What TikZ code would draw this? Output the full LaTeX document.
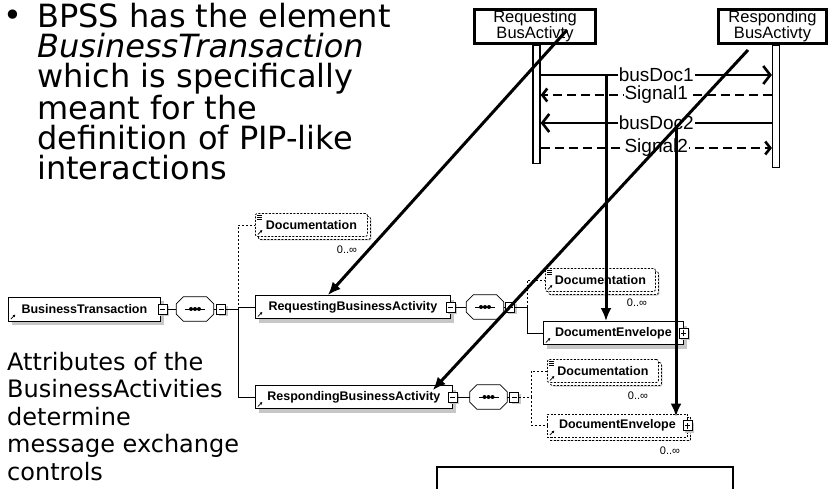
\documentclass[tikz,border=0pt]{standalone}
\usepackage{fontspec}
\setmainfont{DejaVu Sans}
\newfontfamily\arialfont{Liberation Sans}
\usetikzlibrary{positioning}
\usetikzlibrary{shadows}
\usetikzlibrary{arrows.meta}
\tikzset{
    actbox/.style = {rectangle, line width=3pt, draw=black, fill=white, align=center, inner sep=0pt, font=\arialfont\fontsize{16.5}{16}\selectfont},
    life/.style = {rectangle, line width=1.2pt, draw=black, fill=white, minimum width=7pt, inner sep=0pt},
    msg/.style = {line width=2.6pt, -{Straight Barb[length=7pt,width=18pt]}},
    sig/.style = {line width=2.6pt, dash pattern=on 9pt off 5pt, -{Straight Barb[length=5pt,width=13pt]}},
    msglabel/.style = {fill=white, inner sep=1pt, font=\arialfont\fontsize{19}{19}\selectfont},
    pointer/.style = {line width=3pt, -{Latex[length=13pt,width=11pt]}},
    elem/.style = {rectangle, draw=black, line width=0.8pt, fill=white, minimum height=23pt, inner sep=0pt, anchor=west,
        font=\arialfont\bfseries\fontsize{12.5}{12.5}\selectfont,
        drop shadow={shadow xshift=4pt, shadow yshift=-4pt, fill=black!22, opacity=1},
        path picture={\draw[line width=0.8pt, solid, -{Latex[length=2.5pt,width=3pt]}] ([xshift=2.5pt,yshift=2pt]path picture bounding box.south west) -- ++(4.5pt,4.5pt);}},
    optelem/.style = {elem, dash pattern=on 2pt off 1.5pt},
    multi/.style = {copy shadow={shadow xshift=3pt, shadow yshift=-3pt, draw=black, fill=white}},
    docelem/.style = {optelem, multi, rounded corners=2pt,
        path picture={\draw[line width=0.8pt, solid, -{Latex[length=2.5pt,width=3pt]}] ([xshift=2.5pt,yshift=2pt]path picture bounding box.south west) -- ++(4.5pt,4.5pt);
            \foreach \dy in {1.5,3.5,5.5} \draw[line width=0.6pt, solid] ([xshift=1.5pt,yshift=-\dy pt]path picture bounding box.north west) -- ++(5pt,0pt);}},
    compositor/.style = {rectangle, minimum width=37pt, minimum height=24pt, inner sep=0pt,
        append after command={\pgfextra{
            \fill[black!22, shift={(3pt,-3pt)}] ([xshift=7pt]\tikzlastnode.north west) -- ([xshift=-7pt]\tikzlastnode.north east) -- ([yshift=-7pt]\tikzlastnode.north east) -- ([yshift=7pt]\tikzlastnode.south east) -- ([xshift=-7pt]\tikzlastnode.south east) -- ([xshift=7pt]\tikzlastnode.south west) -- ([yshift=7pt]\tikzlastnode.south west) -- ([yshift=-7pt]\tikzlastnode.north west) -- cycle;
            \draw[line width=0.8pt, fill=white] ([xshift=7pt]\tikzlastnode.north west) -- ([xshift=-7pt]\tikzlastnode.north east) -- ([yshift=-7pt]\tikzlastnode.north east) -- ([yshift=7pt]\tikzlastnode.south east) -- ([xshift=-7pt]\tikzlastnode.south east) -- ([xshift=7pt]\tikzlastnode.south west) -- ([yshift=7pt]\tikzlastnode.south west) -- ([yshift=-7pt]\tikzlastnode.north west) -- cycle;
            \draw[line width=0.8pt] ([xshift=-10pt]\tikzlastnode.center) -- ([xshift=10pt]\tikzlastnode.center);
            \foreach \dx in {-4,0,4} \fill ([xshift=\dx pt]\tikzlastnode.center) circle (2pt);
        }}},
    togglebox/.style = {rectangle, draw=black, line width=0.7pt, fill=white, minimum width=9pt, minimum height=10pt, inner sep=0pt,
        drop shadow={shadow xshift=2pt, shadow yshift=-2pt, fill=black!22, opacity=1}},
    minusbox/.style = {togglebox, path picture={\draw[line width=0.7pt] ([xshift=2pt]path picture bounding box.west) -- ([xshift=-2pt]path picture bounding box.east);}},
    plusbox/.style = {togglebox, path picture={\draw[line width=0.7pt] ([xshift=2pt]path picture bounding box.west) -- ([xshift=-2pt]path picture bounding box.east);
            \draw[line width=0.7pt] ([yshift=2pt]path picture bounding box.south) -- ([yshift=-2pt]path picture bounding box.north);}},
    mult/.style = {inner sep=0pt, font=\arialfont\fontsize{11}{11}\selectfont},
    conn/.style = {line width=0.8pt},
    optconn/.style = {line width=0.8pt, dash pattern=on 2pt off 2pt},
    slidetext/.style = {anchor=north west, inner sep=0pt, align=left}
}

\begin{document}
\begin{tikzpicture}[x=1pt, y=-1pt]
\useasboundingbox (0,0) rectangle (830,489);
%
% slide texts
\node[anchor=base, inner sep=0pt, font=\fontsize{32}{30}\selectfont] (bullet) at (13,27) {•};
\node[slidetext, font=\fontsize{32}{30}\selectfont] (bpss) at (37,3) {BPSS has the element\\\textit{BusinessTransaction}\\which is specifically\\meant for the\\definition of PIP-like\\interactions};
\node[slidetext, font=\fontsize{24}{27.5}\selectfont] (attrs) at (7,352) {Attributes of the\\BusinessActivities\\determine\\message exchange\\controls};
%
% sequence diagram
\node[actbox, minimum width=121pt, minimum height=34pt] (reqAct) at (535,26.5) {Requesting\\BusActivty};
\node[actbox, minimum width=108pt, minimum height=34pt] (resAct) at (772.5,26.5) {Responding\\BusActivty};
\node[life, minimum height=118pt, anchor=north] (reqLife) at (536.5,45) {};
\node[life, minimum height=122pt, anchor=north] (resLife) at (776,45) {};
\coordinate (m1) at (0,75);
\coordinate (m2) at (0,95);
\coordinate (m3) at (0,123);
\coordinate (m4) at (0,148);
\draw[msg] (reqLife.east |- m1) -- node[msglabel] {busDoc1} (resLife.west |- m1);
\draw[sig] (resLife.west |- m2) -- node[msglabel] {Signal1} (reqLife.east |- m2);
\draw[msg] (resLife.west |- m3) -- node[msglabel] {busDoc2} (reqLife.east |- m3);
\draw[sig] (reqLife.east |- m4) -- node[msglabel] {Signal2} (resLife.west |- m4);
%
% schema tree
\node[elem, minimum width=152pt, minimum height=24pt] (bt) at (8,309) {BusinessTransaction};
\node[minusbox] (btSq) at ([xshift=2pt]bt.east) {};
\node[compositor] (seq1) at (195,309) {};
\node[minusbox] (seq1Sq) at (221,309) {};
\coordinate (bus1) at (238,309);
\node[docelem, minimum width=112pt] (doc1) at (255,225) {Documentation};
\node[mult] (doc1Mult) at (347,250) {0..∞};
\node[elem, minimum width=195pt] (reqBA) at (255,307) {RequestingBusinessActivity};
\node[minusbox] (reqBASq) at (reqBA.east) {};
\node[compositor] (seq2) at (485,307) {};
\node[minusbox] (seq2Sq) at (510,307) {};
\coordinate (bus2) at (527,307);
\node[docelem, minimum width=110pt] (doc2) at (545,280) {Documentation};
\node[mult] (doc2Mult) at (637,303) {0..∞};
\node[elem, minimum width=140pt] (reqEnv) at (543,333) {DocumentEnvelope};
\node[plusbox] (reqEnvSq) at (reqEnv.east) {};
\node[elem, minimum width=197pt] (resBA) at (255,397) {RespondingBusinessActivity};
\node[minusbox] (resBASq) at (resBA.east) {};
\node[compositor] (seq3) at (488.5,397) {};
\node[minusbox] (seq3Sq) at (514,397) {};
\coordinate (bus3) at (531,397);
\node[docelem, minimum width=111pt] (doc3) at (547,371) {Documentation};
\node[mult] (doc3Mult) at (638,396) {0..∞};
\node[optelem, multi, minimum width=140pt] (resEnv) at (547,425.5) {DocumentEnvelope};
\node[plusbox] (resEnvSq) at (resEnv.east) {};
\node[mult] (resEnvMult) at (670,451) {0..∞};
%
\draw[conn] (btSq.east) -- (seq1.west);
\draw[conn] (seq1.east) -- (seq1Sq.west);
\draw[conn] (seq1Sq.east) -- (bus1);
\draw[conn] (bus1 |- reqBA.west) -- (reqBA.west);
\draw[optconn] (bus1) |- (doc1.west);
\draw[conn] (bus1) |- (resBA.west);
\draw[conn] (reqBASq.east) -- (seq2.west);
\draw[conn] (seq2.east) -- (seq2Sq.west);
\draw[conn] (seq2Sq.east) -- (bus2);
\draw[optconn] (bus2) |- (doc2.west);
\draw[conn] (bus2) |- (reqEnv.west);
\draw[conn] (resBASq.east) -- (seq3.west);
\draw[conn] (seq3.east) -- (seq3Sq.west);
\draw[optconn] (seq3Sq.east) -- (bus3);
\draw[optconn] (bus3) |- (doc3.west);
\draw[optconn] (bus3) |- (resEnv.west);
%
% empty box at the bottom
\draw[line width=1.5pt] (437,495) |- (733,467) -- (733,495);
%
% pointers from the sequence diagram to the schema
\coordinate (reqFrom) at (567,30);
\coordinate (resFrom) at (748,50);
\coordinate (tap1) at (606,75);
\coordinate (tap2) at (676,125);
\draw[pointer] (reqFrom) -- ([xshift=-25pt]reqBA.north);
\draw[pointer] (resFrom) -- ([xshift=-20pt,yshift=-5pt]resBA.north east);
\draw[pointer] (tap1) -- (tap1 |- reqEnv.north);
\draw[pointer] (tap2) -- ([yshift=-3pt]tap2 |- resEnv.north);
\end{tikzpicture}
\end{document}
